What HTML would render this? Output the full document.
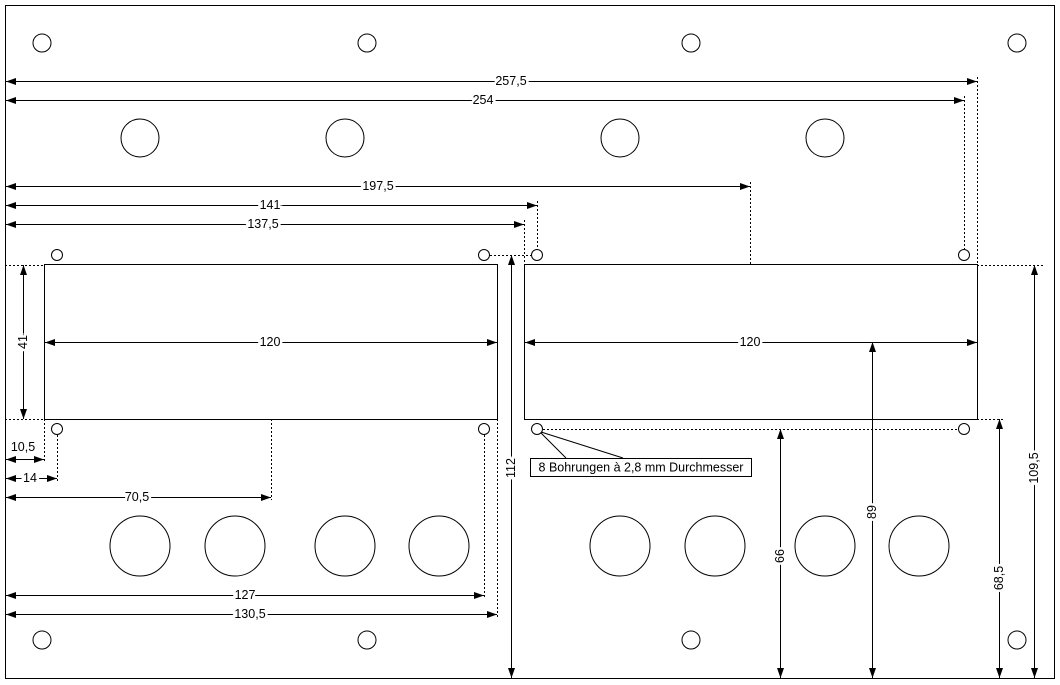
<!DOCTYPE html>
<html><head><style>html,body{margin:0;padding:0;background:#fff}svg{display:block}text{font-family:"Liberation Sans",sans-serif;font-size:12.5px;fill:#000;paint-order:stroke;stroke:#fff;stroke-width:5px;text-anchor:middle;dominant-baseline:central}</style></head><body>
<svg width="1060" height="685" viewBox="0 0 1060 685" xmlns="http://www.w3.org/2000/svg">
<defs><marker id="a" viewBox="0 0 10 10" refX="10" refY="5" markerWidth="10" markerHeight="10" markerUnits="userSpaceOnUse" orient="auto-start-reverse"><path d="M0,1.5L10,5L0,8.5z" fill="#000"/></marker></defs>
<rect x="5.5" y="5.5" width="1049" height="673" fill="#fff" stroke="#000"/>
<g fill="#fff" stroke="#000">
<circle cx="42" cy="43" r="9"/><circle cx="367" cy="43" r="9"/><circle cx="691" cy="43" r="9"/><circle cx="1017" cy="43" r="9"/>
<circle cx="42" cy="640" r="9"/><circle cx="367" cy="640" r="9"/><circle cx="691" cy="640" r="9"/><circle cx="1017" cy="640" r="9"/>
<circle cx="140" cy="138" r="19"/><circle cx="345" cy="138" r="19"/><circle cx="620" cy="138" r="19"/><circle cx="825" cy="138" r="19"/>
<circle cx="140" cy="546" r="30"/><circle cx="235" cy="546" r="30"/><circle cx="345" cy="546" r="30"/><circle cx="439" cy="546" r="30"/>
<circle cx="620" cy="546" r="30"/><circle cx="715" cy="546" r="30"/><circle cx="825" cy="546" r="30"/><circle cx="919" cy="546" r="30"/>
<rect x="44.5" y="264.5" width="453" height="155"/><rect x="524.5" y="264.5" width="453" height="155"/>
</g>
<g stroke="#000" stroke-dasharray="2,2" fill="none">
<path d="M977.5 77V265M964.5 96V249M750.5 182V265M537.5 201V249M524.5 220V300M5 265.5H44M5 419.5H44M490 255.5H531M543 429.5H958M977 265.5H1043M977 419.5H1003M44.5 419V462M57.5 435V482M271.5 419V500M484.5 435V598M497.5 419V617"/>
</g>
<g fill="#fff" stroke="#000">
<circle cx="57" cy="255" r="5.5"/><circle cx="484" cy="255" r="5.5"/><circle cx="537" cy="255" r="5.5"/><circle cx="964" cy="255" r="5.5"/>
<circle cx="57" cy="429" r="5.5"/><circle cx="484" cy="429" r="5.5"/><circle cx="537" cy="429" r="5.5"/><circle cx="964" cy="429" r="5.5"/>
</g>
<g stroke="#000" marker-start="url(#a)" marker-end="url(#a)">
<line x1="6" y1="81.5" x2="977" y2="81.5"/>
<line x1="6" y1="100.5" x2="964" y2="100.5"/>
<line x1="6" y1="186.5" x2="750" y2="186.5"/>
<line x1="6" y1="205.5" x2="537" y2="205.5"/>
<line x1="6" y1="224.5" x2="524" y2="224.5"/>
<line x1="23.5" y1="265" x2="23.5" y2="419"/>
<line x1="45" y1="342.5" x2="497" y2="342.5"/>
<line x1="525" y1="342.5" x2="977" y2="342.5"/>
<line x1="6" y1="459.5" x2="44" y2="459.5"/>
<line x1="6" y1="478.5" x2="57" y2="478.5"/>
<line x1="6" y1="497.5" x2="271" y2="497.5"/>
<line x1="511.5" y1="255" x2="511.5" y2="678"/>
<line x1="6" y1="595.5" x2="484" y2="595.5"/>
<line x1="6" y1="614.5" x2="497" y2="614.5"/>
<line x1="780.5" y1="429" x2="780.5" y2="678"/>
<line x1="872.5" y1="342" x2="872.5" y2="678"/>
<line x1="999.5" y1="419" x2="999.5" y2="678"/>
<line x1="1034.5" y1="265" x2="1034.5" y2="678"/>
</g>
<text x="511" y="81">257,5</text><text x="483" y="100">254</text><text x="378" y="186">197,5</text>
<text x="270" y="205">141</text><text x="263" y="224">137,5</text>
<text x="270" y="342">120</text><text x="750" y="342">120</text>
<text x="23" y="447" style="stroke:none">10,5</text><text x="30" y="478">14</text><text x="137" y="497">70,5</text>
<text x="245" y="595">127</text><text x="250" y="614">130,5</text>
<text transform="translate(23,342) rotate(-90)">41</text>
<text transform="translate(511,468) rotate(-90)">112</text>
<text transform="translate(780,556) rotate(-90)">66</text>
<text transform="translate(872,512) rotate(-90)">89</text>
<text transform="translate(999,578) rotate(-90)">68,5</text>
<text transform="translate(1034,468) rotate(-90)">109,5</text>
<path d="M541 433L566 458M541 432L623 458" stroke="#000" fill="none"/>
<rect x="530.5" y="458.5" width="221" height="18" fill="#fff" stroke="#000"/>
<text x="641" y="467.5" style="stroke:none;font-size:12.5px">8 Bohrungen à 2,8 mm Durchmesser</text>
</svg>
</body></html>
